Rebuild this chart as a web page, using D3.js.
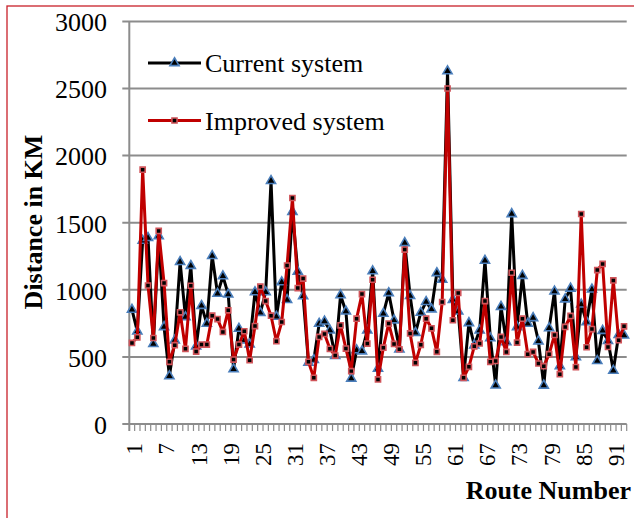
<!DOCTYPE html>
<html>
<head>
<meta charset="utf-8">
<script src="https://cdn.jsdelivr.net/npm/d3@7/dist/d3.min.js"></script>
<style>
  body { margin: 0; background: #fff; }
  text { font-family: "Liberation Serif", "Times New Roman", serif; }
</style>
</head>
<body>
<script>
var svgWidth = 634;
var svgHeight = 518;

// plot area (pixel box of the axes)
var plot = { left: 129.3, right: 626.7, top: 21.4, bottom: 424 };

// categories: route numbers
var routes = [1,2,3,4,5,6,7,8,9,10,11,12,13,14,15,16,17,18,19,20,
  21,22,23,24,25,26,27,28,29,30,31,32,33,34,35,36,37,38,39,40,
  41,42,43,44,45,46,47,48,49,50,51,52,53,54,55,56,57,58,59,60,
  61,62,63,64,65,66,67,68,69,70,71,72,73,74,75,76,77,78,79,80,
  81,82,83,84,85,86,87,88,89,90,91,92,93];

var xTickLabels = [1,7,13,19,25,31,37,43,49,55,61,67,73,79,85,91];
var yTickValues = [0,500,1000,1500,2000,2500,3000];

var seriesNames = ["Current system", "Improved system"];

var currentSystem = [852,691,1367,1387,597,1401,723,357,624,1208,
  797,1179,579,881,748,1253,971,1102,966,409,
  711,624,594,983,829,983,1812,800,1057,925,
  1582,1135,953,458,478,748,765,698,508,960,
  839,339,550,542,698,1139,413,822,976,773,
  557,1349,955,680,830,910,855,1125,1076,2630,
  926,839,344,753,587,698,1218,640,288,874,
  610,1565,723,1105,748,790,617,287,715,988,
  431,930,1010,498,891,760,1003,470,695,620,
  398,665,661];

var improvedSystem = [604,646,1895,1032,641,1439,1050,463,587,832,
  560,1030,540,592,592,807,782,686,847,480,
  592,691,475,730,1023,916,807,617,760,1181,
  1684,1013,1084,463,344,649,671,560,510,735,
  562,394,785,968,599,1075,332,569,748,597,
  557,1300,675,456,590,785,713,538,909,2500,
  773,976,344,426,579,600,916,463,470,649,
  537,1127,607,785,520,537,451,431,520,663,
  371,723,805,424,1565,572,707,1147,1193,574,
  1070,624,728];

var svg = d3.select("body")
  .append("svg")
  .attr("width", svgWidth)
  .attr("height", svgHeight);

svg.append("rect")
  .attr("width", svgWidth)
  .attr("height", svgHeight)
  .attr("fill", "#fff");

// red frame, only top and left edges show in the crop
svg.append("rect")
  .attr("x", 7)
  .attr("y", 6)
  .attr("width", 700)
  .attr("height", 600)
  .attr("fill", "none")
  .attr("stroke", "#c8202a")
  .attr("stroke-width", 1.3);

var xBand = d3.scaleBand()
  .domain(routes)
  .range([plot.left, plot.right]);

var xScale = function(d) { return xBand(d) + xBand.bandwidth() / 2; };

var yScale = d3.scaleLinear()
  .domain([0, 3000])
  .range([plot.bottom, plot.top]);

var gridColor = "#8c8c8c";

// gridlines + left ticks
svg.append("g").selectAll("line")
  .data(yTickValues)
  .enter()
  .append("line")
  .attr("x1", plot.left - 7)
  .attr("x2", plot.right)
  .attr("y1", d => yScale(d))
  .attr("y2", d => yScale(d))
  .attr("stroke", gridColor)
  .attr("stroke-width", 2);

// y axis line
svg.append("line")
  .attr("x1", plot.left)
  .attr("x2", plot.left)
  .attr("y1", plot.top)
  .attr("y2", plot.bottom + 7)
  .attr("stroke", gridColor)
  .attr("stroke-width", 2);

// x ticks between categories
svg.append("g").selectAll("line")
  .data(routes.slice(1))
  .enter()
  .append("line")
  .attr("x1", d => xBand(d))
  .attr("x2", d => xBand(d))
  .attr("y1", plot.bottom)
  .attr("y2", plot.bottom + 7)
  .attr("stroke", gridColor)
  .attr("stroke-width", 1.2);

svg.append("line")
  .attr("x1", plot.right)
  .attr("x2", plot.right)
  .attr("y1", plot.bottom)
  .attr("y2", plot.bottom + 7)
  .attr("stroke", gridColor)
  .attr("stroke-width", 1.2);

// y tick labels
svg.append("g").selectAll("text")
  .data(yTickValues)
  .enter()
  .append("text")
  .attr("x", 107)
  .attr("y", d => yScale(d))
  .attr("dy", "0.38em")
  .attr("text-anchor", "end")
  .style("font-size", "26px")
  .text(d => d);

// x tick labels (rotated)
svg.append("g").selectAll("text")
  .data(xTickLabels)
  .enter()
  .append("text")
  .attr("transform", d => `translate(${xScale(d)}, 443) rotate(-90)`)
  .attr("dy", "0.45em")
  .attr("text-anchor", "end")
  .style("font-size", "23px")
  .text(d => d);

// axis titles
svg.append("text")
  .attr("transform", "translate(33, 222) rotate(-90)")
  .attr("dy", "0.35em")
  .attr("text-anchor", "middle")
  .style("font-size", "26px")
  .style("font-weight", "bold")
  .text("Distance in KM");

svg.append("text")
  .attr("x", 631)
  .attr("y", 499)
  .attr("text-anchor", "end")
  .style("font-size", "26px")
  .style("font-weight", "bold")
  .text("Route Number");

var triangle = d3.symbol().type(d3.symbolTriangle).size(36);
var square = d3.symbol().type(d3.symbolSquare).size(26);

function drawSeries(values, lineColor, shape, markerStroke) {
  var drawLine = d3.line()
    .x((d, i) => xScale(routes[i]))
    .y(d => yScale(d));

  svg.append("path")
    .attr("d", drawLine(values))
    .attr("stroke", lineColor)
    .attr("stroke-width", 3)
    .attr("stroke-linejoin", "round")
    .style("fill", "none");

  svg.append("g").selectAll("path")
    .data(values)
    .enter()
    .append("path")
    .attr("d", shape)
    .attr("transform", (d, i) => `translate(${xScale(routes[i])}, ${yScale(d)})`)
    .attr("fill", "#000")
    .attr("stroke", markerStroke)
    .attr("stroke-width", 1.6);
}

drawSeries(currentSystem, "#000", triangle, "#4a7ebb");
drawSeries(improvedSystem, "#c00000", square, "#d0545a");

// legend
var legend = [
  { name: seriesNames[0], color: "#000", shape: triangle, mk: "#4a7ebb", y: 63 },
  { name: seriesNames[1], color: "#c00000", shape: square, mk: "#d0545a", y: 120.5 }
];

legend.forEach(function(l) {
  svg.append("line")
    .attr("x1", 148)
    .attr("x2", 201)
    .attr("y1", l.y)
    .attr("y2", l.y)
    .attr("stroke", l.color)
    .attr("stroke-width", 3);
  svg.append("path")
    .attr("d", l.shape)
    .attr("transform", `translate(174.5, ${l.y})`)
    .attr("fill", "#000")
    .attr("stroke", l.mk)
    .attr("stroke-width", 1.6);
  svg.append("text")
    .attr("x", 205)
    .attr("y", l.y + 9)
    .style("font-size", "26px")
    .text(l.name);
});
</script>
</body>
</html>
